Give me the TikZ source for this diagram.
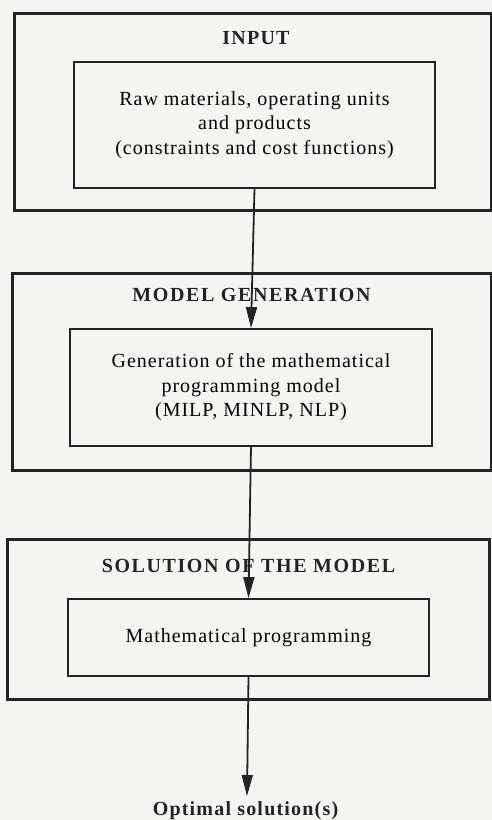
\documentclass[tikz,border=0pt]{standalone}
\usepackage{fontspec}
\setmainfont[LetterSpace=5]{Liberation Serif}
\newfontfamily\titlefont[LetterSpace=6]{Liberation Serif Bold}
\newfontfamily\widetitlefont[LetterSpace=8]{Liberation Serif Bold}
\usetikzlibrary{arrows.meta}
\definecolor{bg}{RGB}{245,245,243}
\definecolor{ink}{RGB}{35,35,35}
\tikzset{
  outerbox/.style={draw=ink, line width=3pt, minimum width=#1, inner sep=0pt},
  innerbox/.style={draw=ink, line width=1.8pt, align=center, inner sep=0pt, font=\fontsize{20}{24.5}\selectfont},
  titletext/.style={text=ink, font=\titlefont\fontsize{20}{24}\selectfont, inner sep=0pt},
  widetitle/.style={text=ink, font=\widetitlefont\fontsize{20}{24}\selectfont, inner sep=0pt},
  flow/.style={draw=ink, line width=1.8pt, -{Triangle[length=21pt,width=11pt]}},
}
\begin{document}
\begin{tikzpicture}[x=1pt,y=-1pt]
\fill[bg] (0,0) rectangle (492,820);
\useasboundingbox (0,0) rectangle (492,820);
% outer boxes
\node[outerbox=477pt, minimum height=197pt] (o1) at (252.5,111.5) {};
\node[outerbox=479pt, minimum height=197pt] (o2) at (251.5,371.5) {};
\node[outerbox=482pt, minimum height=160pt] (o3) at (248,619) {};
% titles
\node[titletext] (t1) at (256,38) {INPUT};
\node[widetitle] (t2) at (251.5,295) {MODEL GENERATION};
\node[widetitle] (t3) at (248.5,566) {SOLUTION OF THE MODEL};
% inner boxes
\node[innerbox, minimum width=361pt, minimum height=126pt] (i1) at (254.5,125)
  {Raw materials, operating units\\and products\\(constraints and cost functions)};
\node[innerbox, minimum width=362pt, minimum height=117pt] (i2) at (251,387.5)
  {Generation of the mathematical\\programming model\\(MILP, MINLP, NLP)};
\node[innerbox, minimum width=361pt, minimum height=77pt] (i3) at (248.5,637.5)
  {Mathematical programming};
% output
\coordinate (end) at (247,796);
\node[titletext] (out) at (245.5,811) {Optimal solution(s)};
% connectors
\draw[flow] (i1.south) -- (i2.north);
\draw[flow] (i2.south) -- (i3.north);
\draw[flow] (i3.south) -- (end);
\end{tikzpicture}
\end{document}
